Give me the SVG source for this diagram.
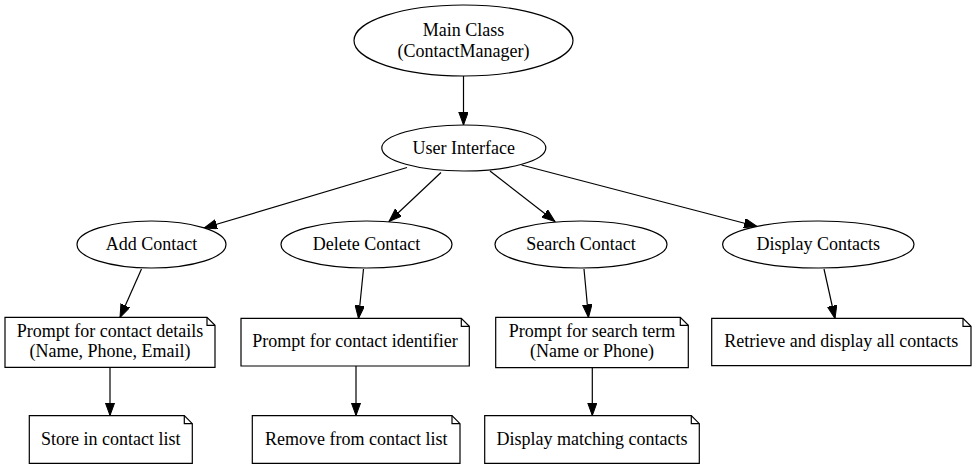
<svg xmlns="http://www.w3.org/2000/svg" width="976" height="469" viewBox="0 0 976 469" font-family="'Liberation Serif', 'Times New Roman', Times, serif">
<style>
.n{fill:#fff;stroke:#000;stroke-width:1.2}
.f{fill:none;stroke:#000;stroke-width:1.2}
text{font-family:'Liberation Serif','Times New Roman',Times,serif;font-size:18px;text-anchor:middle;fill:#000}
.e{fill:none;stroke:#000;stroke-width:1.2;marker-end:url(#ah)}
</style>
<defs>
<marker id="ah" markerUnits="userSpaceOnUse" markerWidth="14" markerHeight="10" refX="13" refY="4.75" orient="auto">
<path d="M0,0 L13,4.75 L0,9.5 z" fill="#000" stroke="#000" stroke-width="1"/>
</marker>
</defs>
<rect width="976" height="469" fill="#fff"/>
<g id="connectors">
<line class="e" x1="463.5" y1="76" x2="463.5" y2="125"/>
<line class="e" x1="407" y1="167.5" x2="204" y2="228"/>
<line class="e" x1="441" y1="172.5" x2="389" y2="221.5"/>
<line class="e" x1="490" y1="171" x2="555" y2="221.5"/>
<line class="e" x1="521.5" y1="165" x2="757" y2="226.5"/>
<line class="e" x1="141.5" y1="269" x2="120" y2="317.5"/>
<line class="e" x1="363.5" y1="269" x2="358.5" y2="318.5"/>
<line class="e" x1="584" y1="269" x2="588.5" y2="317.5"/>
<line class="e" x1="824" y1="269" x2="835" y2="318.5"/>
<line class="e" x1="110" y1="367.5" x2="110" y2="415.5"/>
<line class="e" x1="356" y1="366" x2="356" y2="415.5"/>
<line class="e" x1="592.3" y1="367.5" x2="592.3" y2="415.5"/>
</g>
<g id="main">
<ellipse class="n" cx="463.5" cy="40.5" rx="109.5" ry="35.5"/>
<text x="463.5" y="36">Main Class</text>
<text x="463.5" y="56.5">(ContactManager)</text>
</g>
<g id="ui">
<ellipse class="n" cx="463.8" cy="148" rx="82" ry="23"/>
<text x="463.8" y="154">User Interface</text>
</g>
<g id="add">
<ellipse class="n" cx="151.5" cy="244.5" rx="74.5" ry="23.5"/>
<text x="151.5" y="250">Add Contact</text>
</g>
<g id="delete">
<ellipse class="n" cx="366.5" cy="244.5" rx="85.5" ry="23.5"/>
<text x="366.5" y="250">Delete Contact</text>
</g>
<g id="search">
<ellipse class="n" cx="581" cy="244.5" rx="86" ry="23.5"/>
<text x="581" y="250">Search Contact</text>
</g>
<g id="display">
<ellipse class="n" cx="818.3" cy="244.5" rx="95.7" ry="23.5"/>
<text x="818.3" y="250">Display Contacts</text>
</g>
<g id="prompt_details">
<path class="n" d="M5,317.3 H207 L215,325.3 V367.3 H5 Z"/>
<path class="f" d="M207,317.3 V325.3 H215"/>
<text x="110" y="337">Prompt for contact details</text>
<text x="110" y="357.3">(Name, Phone, Email)</text>
</g>
<g id="prompt_identifier">
<path class="n" d="M241,318.3 H461.3 L469.3,326.3 V366 H241 Z"/>
<path class="f" d="M461.3,318.3 V326.3 H469.3"/>
<text x="355" y="347">Prompt for contact identifier</text>
</g>
<g id="prompt_search">
<path class="n" d="M495.7,317.3 H680.3 L688.3,325.3 V367.7 H495.7 Z"/>
<path class="f" d="M680.3,317.3 V325.3 H688.3"/>
<text x="592" y="336.7">Prompt for search term</text>
<text x="592" y="357.3">(Name or Phone)</text>
</g>
<g id="retrieve">
<path class="n" d="M711.7,318.3 H963 L971,326.3 V365.7 H711.7 Z"/>
<path class="f" d="M963,318.3 V326.3 H971"/>
<text x="841.3" y="347">Retrieve and display all contacts</text>
</g>
<g id="store">
<path class="n" d="M29.3,415.7 H184.3 L192.3,423.7 V463.3 H29.3 Z"/>
<path class="f" d="M184.3,415.7 V423.7 H192.3"/>
<text x="110.8" y="445">Store in contact list</text>
</g>
<g id="remove">
<path class="n" d="M252.3,415.7 H452 L460,423.7 V463.3 H252.3 Z"/>
<path class="f" d="M452,415.7 V423.7 H460"/>
<text x="356.2" y="445">Remove from contact list</text>
</g>
<g id="display_matching">
<path class="n" d="M484.7,415.7 H691.3 L699.3,423.7 V463.3 H484.7 Z"/>
<path class="f" d="M691.3,415.7 V423.7 H699.3"/>
<text x="592" y="445">Display matching contacts</text>
</g>
</svg>
